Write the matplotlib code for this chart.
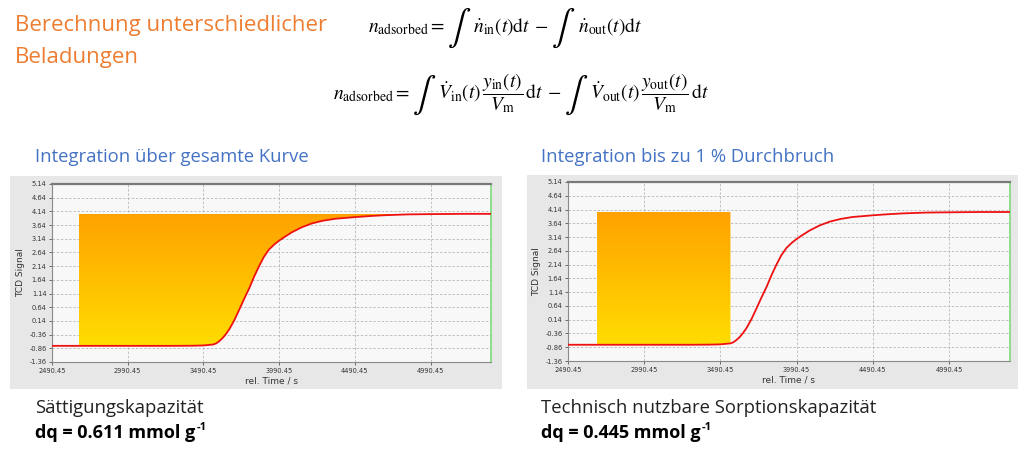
import matplotlib
matplotlib.use("Agg")
import matplotlib.pyplot as plt
import numpy as np
from matplotlib.colors import LinearSegmentedColormap
from matplotlib.patches import Rectangle

# breakthrough curve (rel. time in s, signal)
time_s = np.array([
    2490.45, 2668, 2681, 3000, 3300, 3420, 3460, 3490, 3520, 3556, 3575, 3595,
    3615, 3635, 3661, 3695, 3727, 3760, 3793, 3825, 3858, 3890, 3924, 3958,
    3990, 4030, 4076, 4140, 4207, 4280, 4359, 4490, 4590, 4688, 4840, 4990,
    5200, 5400,
])
tcd_signal = np.array([
    -0.77, -0.77, -0.77, -0.77, -0.77, -0.765, -0.76, -0.755, -0.74, -0.72, -0.68, -0.60,
    -0.50, -0.37, -0.17, 0.17, 0.55, 0.95, 1.33, 1.75, 2.14, 2.48, 2.75, 2.93,
    3.07, 3.22, 3.38, 3.56, 3.70, 3.80, 3.87, 3.93, 3.97, 4.00, 4.03, 4.04,
    4.05, 4.05,
])
plateau = 4.05

# integration windows: (start, end) in s
window_full = (2668, 5400)
window_breakthrough = (2681, 3556)

x_ticks = [2490.45, 2990.45, 3490.45, 3990.45, 4490.45, 4990.45]
y_ticks = [-1.36, -0.86, -0.36, 0.14, 0.64, 1.14, 1.64, 2.14, 2.64, 3.14, 3.64, 4.14, 4.64, 5.14]

panel_titles = ["Integration über gesamte Kurve", "Integration bis zu 1 % Durchbruch"]
capacity_names = ["Sättigungskapazität", "Technisch nutzbare Sorptionskapazität"]
capacity_values = ["0.611", "0.445"]

W, H = 1024, 457
fig = plt.figure(figsize=(W / 100, H / 100), dpi=100)
fig.patch.set_facecolor("white")
plt.rcParams["mathtext.fontset"] = "stix"
renderer = fig.canvas.get_renderer()


def box(x0, y0, x1, y1):
    # pixel box (top-left origin) -> figure fraction rect
    return [x0 / W, 1 - y1 / H, (x1 - x0) / W, (y1 - y0) / H]


def txt(x, y, s, **kw):
    return fig.text(x / W, 1 - y / H, s, **kw)


def equation(x, y, pieces, size=14, int_size=25):
    # lay out math pieces left to right; "INT" gets a large integral sign
    for piece in pieces:
        if piece == "INT":
            t = txt(x, y + 5, r"$\int$", fontsize=int_size, va="baseline")
        else:
            t = txt(x, y, piece, fontsize=size, va="baseline")
        x += t.get_window_extent(renderer).width + 2


orange = "#ED7D31"
blue = "#4472C4"
txt(15, 25, "Berechnung unterschiedlicher", color=orange, fontsize=16,
    family="Open Sans", va="center")
txt(15, 57, "Beladungen", color=orange, fontsize=16, family="Open Sans", va="center")

equation(368, 32, [r"$n_{\mathrm{adsorbed}} =$", "INT", r"$\dot{n}_{\mathrm{in}}(t)\mathrm{d}t\;-$",
                   "INT", r"$\dot{n}_{\mathrm{out}}(t)\mathrm{d}t$"])
equation(333, 99, [r"$n_{\mathrm{adsorbed}} =$", "INT",
                   r"$\dot{V}_{\mathrm{in}}(t)\,\dfrac{y_{\mathrm{in}}(t)}{V_{\mathrm{m}}}\,\mathrm{d}t\;-$",
                   "INT", r"$\dot{V}_{\mathrm{out}}(t)\,\dfrac{y_{\mathrm{out}}(t)}{V_{\mathrm{m}}}\,\mathrm{d}t$"])

fill_cmap = LinearSegmentedColormap.from_list("fill", ["#FFDD00", "#FFA200"])

panels = [
    dict(panel=(10, 176, 502, 389), axes=(52, 184, 491, 362), window=window_full, tx=35),
    dict(panel=(527, 175, 1018, 389), axes=(568, 182, 1010, 361), window=window_breakthrough, tx=541),
]

for i, p in enumerate(panels):
    r = box(*p["panel"])
    fig.patches.append(Rectangle(r[:2], r[2], r[3], transform=fig.transFigure,
                                 facecolor="#E7E7E7", edgecolor="none", zorder=-5))
    ax = fig.add_axes(box(*p["axes"]))
    ax.set_facecolor("#F8F8F8")

    start, end = p["window"]
    mask = (time_s >= start) & (time_s <= end)
    poly = ax.fill_between(time_s, tcd_signal, plateau, where=mask, facecolor="none",
                           edgecolor="none", zorder=2)
    grad = ax.imshow(np.linspace(0, 1, 256).reshape(-1, 1), cmap=fill_cmap, origin="lower",
                     aspect="auto", extent=(start, end, -0.8, plateau), zorder=2)
    grad.set_clip_path(poly.get_paths()[0], transform=ax.transData)
    ax.set_xlim(2490.45, 5390)
    ax.set_ylim(-1.36, 5.14)

    ax.plot(time_s, tcd_signal, color="#EE1111", lw=1.3, zorder=3)

    ax.set_xticks(x_ticks)
    ax.set_xticklabels([f"{v:.2f}" for v in x_ticks])
    ax.set_yticks(y_ticks)
    ax.set_yticklabels([f"{v:.2f}" for v in y_ticks])
    ax.tick_params(labelsize=4.8, length=2.5, width=0.6, color="#555555", pad=1.5,
                   labelcolor="#333333")
    ax.grid(True, color="#B8B8B8", lw=0.6, ls=(0, (3, 2)), zorder=1)
    ax.set_axisbelow(True)
    for side in ["left", "bottom"]:
        ax.spines[side].set_color("#8A8A8A")
        ax.spines[side].set_linewidth(0.8)
    ax.spines["top"].set_color("#7A7A7A")
    ax.spines["top"].set_linewidth(1.6)
    ax.spines["right"].set_color("#7CDC7C")
    ax.spines["right"].set_linewidth(1.2)
    ax.set_ylabel("TCD Signal", fontsize=6.5, color="#333333", labelpad=3)
    ax.set_xlabel("rel. Time / s", fontsize=6.5, color="#333333", labelpad=2)

    txt(p["tx"], 157, panel_titles[i], color=blue, fontsize=13.3, family="Open Sans",
        va="center")
    txt(p["tx"], 408, capacity_names[i], color="#222222", fontsize=13.3,
        family="Open Sans", va="center")
    dq = txt(p["tx"], 438, "dq = " + capacity_values[i] + " mmol g", color="black",
             fontsize=13, family="Open Sans", weight="bold", va="baseline")
    sup_x = p["tx"] + dq.get_window_extent(renderer).width + 1
    txt(sup_x, 430, "-1", color="black", fontsize=8, family="Open Sans",
        weight="bold", va="baseline")

fig.savefig("out.png", dpi=100)
